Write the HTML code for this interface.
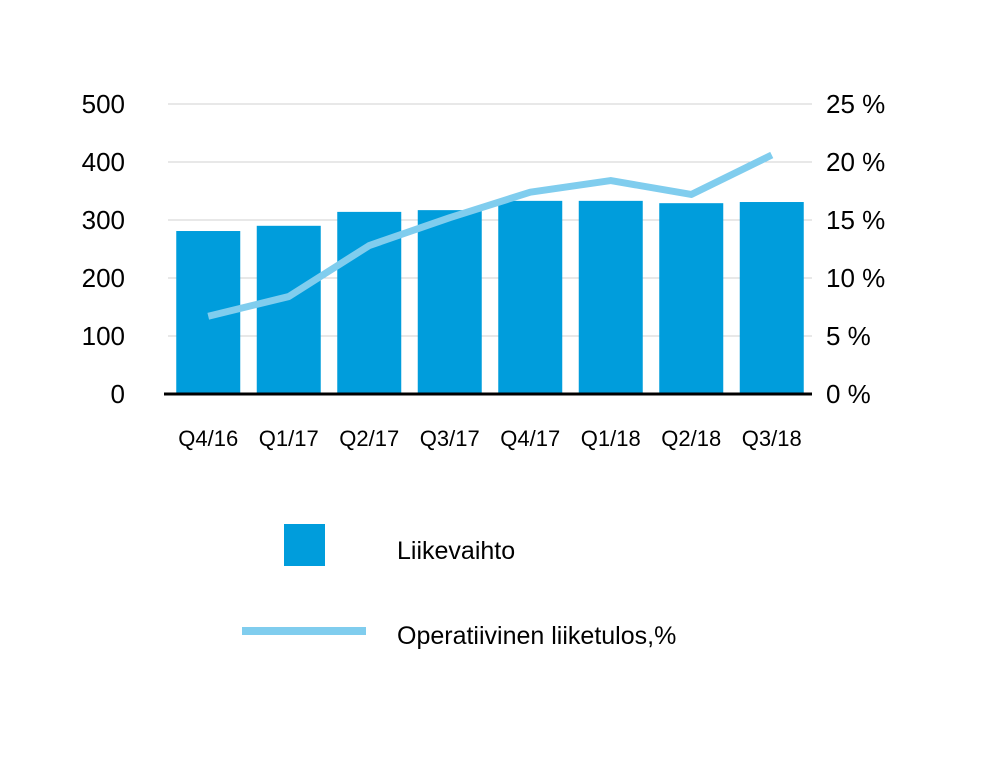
<!DOCTYPE html>
<html><head><meta charset="utf-8"><style>
body{margin:0;background:#fff}
svg text{font-family:"Liberation Sans",sans-serif;fill:#000}
</style></head><body>
<svg id="chart" width="1000" height="762">
<g id="grid"></g><g id="bars"></g><g id="line"></g><g id="axes"></g>
<g>
<rect x="284" y="524" width="41" height="42" fill="#009ddc"/>
<text x="397" y="559" font-size="25">Liikevaihto</text>
<line x1="242" y1="631" x2="366" y2="631" stroke="#80cdee" stroke-width="8"/>
<text x="397" y="644" font-size="25">Operatiivinen liiketulos,%</text>
</g>
</svg>
<script>
const categories=["Q4/16","Q1/17","Q2/17","Q3/17","Q4/17","Q1/18","Q2/18","Q3/18"];
const revenue=[281,290,314,317,333,333,329,331];
const marginPct=[6.7,8.4,12.8,15.2,17.4,18.4,17.2,20.6];
const leftTicks=[0,100,200,300,400,500];
const rightTicks=[0,5,10,15,20,25];
const NS="http://www.w3.org/2000/svg";
const x0=168,x1=812,yTop=104,yBot=394;
const band=(x1-x0)/categories.length;
const xC=i=>x0+band*(i+0.5);
const yL=v=>yBot-(v/500)*(yBot-yTop);
const yR=v=>yBot-(v/25)*(yBot-yTop);
function mk(tag,attrs,parent){const e=document.createElementNS(NS,tag);for(const k in attrs)e.setAttribute(k,attrs[k]);parent.appendChild(e);return e;}
const grid=document.getElementById('grid'),bars=document.getElementById('bars'),line=document.getElementById('line'),axes=document.getElementById('axes');
leftTicks.forEach((t,i)=>{
  if(t>0){const g=mk('line',{x1:x0,x2:x1,y1:yL(t),y2:yL(t),stroke:'#d0d0d0','stroke-width':1},grid);
  
  }
  const l=mk('text',{x:125,y:yL(t)+9,'font-size':26,'text-anchor':'end'},axes);l.textContent=t;
  
  
});
rightTicks.forEach(t=>{
  const l=mk('text',{x:826,y:yR(t)+9,'font-size':26},axes);l.textContent=t+" %";
  
  
});
revenue.forEach((v,i)=>{
  const r=mk('rect',{x:xC(i)-32,y:yL(v),width:64,height:yBot-yL(v),fill:'#009ddc'},bars);
  
  
  const c=mk('text',{x:xC(i),y:446,'font-size':22,'text-anchor':'middle'},axes);c.textContent=categories[i];
  
  
});
const pl=mk('polyline',{points:marginPct.map((v,i)=>xC(i)+','+yR(v)).join(' '),fill:'none',stroke:'#80cdee','stroke-width':7,'stroke-linejoin':'round'},line);


const ax=mk('line',{x1:x0-4,x2:x1,y1:yBot,y2:yBot,stroke:'#000','stroke-width':3},axes);


</script>
</body></html>
